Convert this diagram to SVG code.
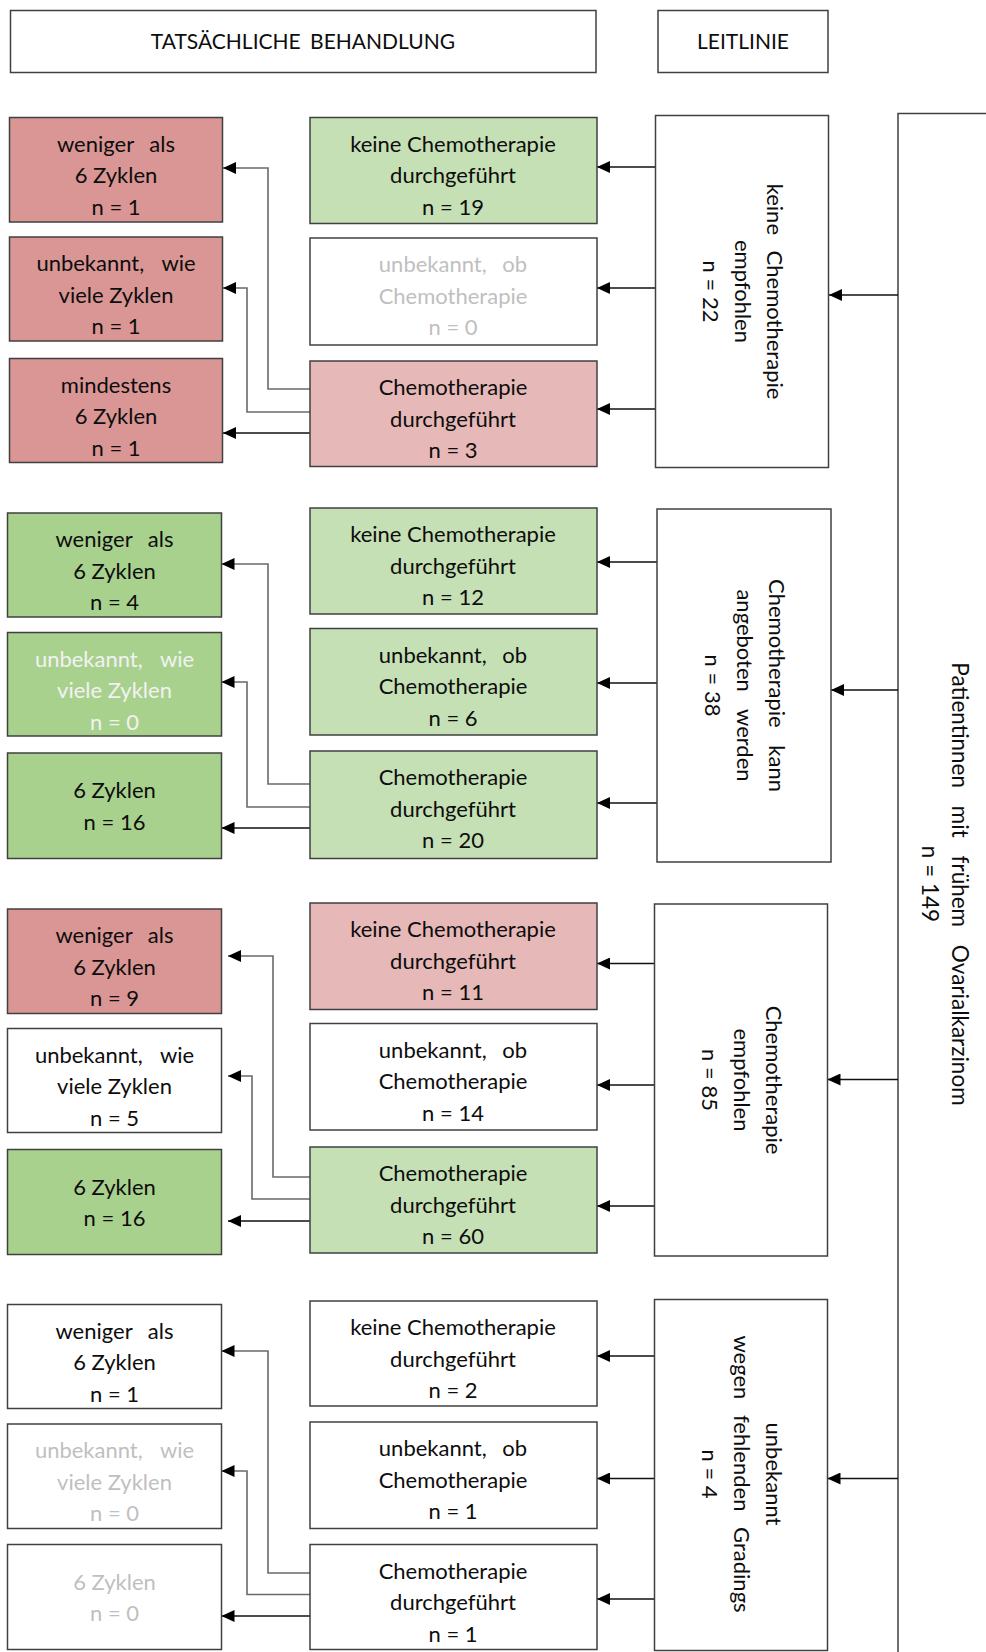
<svg xmlns="http://www.w3.org/2000/svg" width="986" height="1652" viewBox="0 0 986 1652">
<style>
text{font-family:Lato,"Open Sans","Liberation Sans",sans-serif;font-size:22px;fill:#0d0d0d;text-anchor:middle}
.hd{font-size:21px;word-spacing:4px}
.ws{word-spacing:10px}
.ws2{word-spacing:12px}
.big{font-size:22.5px}
.bw{word-spacing:12px}
.box{stroke:#404040;stroke-width:1.5}
.w{fill:#ffffff}
.rd{fill:#D99694}
.rl{fill:#E6B8B7}
.gl{fill:#C5E0B4}
.gd{fill:#A9D18E}
.gt{fill:#BFBFBF}
.wt{fill:#F2F2F2}
.c{fill:none;stroke:#111;stroke-width:1.4}
.e{fill:none;stroke:#6a6a6a;stroke-width:1.6}
</style>
<defs>
<marker id="ah" markerUnits="userSpaceOnUse" markerWidth="13" markerHeight="12" refX="13" refY="6" orient="auto">
<path d="M0,0 L13,6 L0,12 z" fill="#000"/>
</marker>
</defs>
<rect width="986" height="1652" fill="#fff"/>

<g id="hdr1"><rect class="box w" x="10.5" y="10.5" width="585.5" height="62"/><text class="hd" x="303" y="49">TATSÄCHLICHE BEHANDLUNG</text></g>
<g id="hdr2"><rect class="box w" x="658" y="10.5" width="170" height="62"/><text class="hd" x="743" y="49">LEITLINIE</text></g>

<g id="root"><rect class="box w" x="898" y="113.5" width="120" height="1600"/>
<g transform="translate(937,884) rotate(90)"><text class="big bw" y="-15">Patientinnen mit frühem Ovarialkarzinom</text><text class="big" y="15">n = 149</text></g></g>

<g id="connectors">
<path class="c" d="M898,295 H829" marker-end="url(#ah)"/>
<path class="c" d="M898,690 H831" marker-end="url(#ah)"/>
<path class="c" d="M898,1079.5 H827.5" marker-end="url(#ah)"/>
<path class="c" d="M898,1478.5 H827.5" marker-end="url(#ah)"/>

<path class="c" d="M655.5,167 H597" marker-end="url(#ah)"/>
<path class="c" d="M655.5,288 H597" marker-end="url(#ah)"/>
<path class="c" d="M655.5,409 H597" marker-end="url(#ah)"/>
<path class="c" d="M657,562 H597" marker-end="url(#ah)"/>
<path class="c" d="M657,683 H597" marker-end="url(#ah)"/>
<path class="c" d="M657,803 H597" marker-end="url(#ah)"/>
<path class="c" d="M654.5,963.5 H597" marker-end="url(#ah)"/>
<path class="c" d="M654.5,1085 H597" marker-end="url(#ah)"/>
<path class="c" d="M654.5,1206 H597" marker-end="url(#ah)"/>
<path class="c" d="M654.5,1356 H597" marker-end="url(#ah)"/>
<path class="c" d="M654.5,1478.5 H597" marker-end="url(#ah)"/>
<path class="c" d="M654.5,1599 H597" marker-end="url(#ah)"/>

<path class="e" d="M310,389 H268 V168 H223" marker-end="url(#ah)"/>
<path class="e" d="M310,412 H247 V288 H223" marker-end="url(#ah)"/>
<path class="c" d="M310,433 H223" marker-end="url(#ah)"/>
<path class="e" d="M310,784 H268 V564 H221.5" marker-end="url(#ah)"/>
<path class="e" d="M310,807 H247 V682 H221.5" marker-end="url(#ah)"/>
<path class="c" d="M310,828 H221.5" marker-end="url(#ah)"/>
<path class="e" d="M310,1177 H273 V956 H228" marker-end="url(#ah)"/>
<path class="e" d="M310,1199 H252 V1076 H228" marker-end="url(#ah)"/>
<path class="c" d="M310,1221 H228" marker-end="url(#ah)"/>
<path class="e" d="M310,1573 H268 V1351 H221.5" marker-end="url(#ah)"/>
<path class="e" d="M310,1594.5 H247 V1471 H221.5" marker-end="url(#ah)"/>
<path class="c" d="M310,1616 H221.5" marker-end="url(#ah)"/>
</g>

<!-- Section 1 -->
<g id="g1"><rect class="box w" x="655.5" y="115.5" width="173" height="352"/>
<g transform="translate(742,291.5) rotate(90)"><text class="ws" y="-25">keine Chemotherapie</text><text y="7">empfohlen</text><text y="39">n = 22</text></g></g>
<g id="m1a"><rect class="box gl" x="310" y="117.5" width="287" height="106"/><text x="453" y="151.5">keine Chemotherapie</text><text x="453" y="183">durchgeführt</text><text x="453" y="214.5">n = 19</text></g>
<g id="m1b"><rect class="box w" x="310" y="238" width="287" height="107"/><text class="gt ws" x="453" y="272">unbekannt, ob</text><text class="gt" x="453" y="303.5">Chemotherapie</text><text class="gt" x="453" y="335">n = 0</text></g>
<g id="m1c"><rect class="box rl" x="310" y="361" width="287" height="105.5"/><text x="453" y="395">Chemotherapie</text><text x="453" y="426.5">durchgeführt</text><text x="453" y="458">n = 3</text></g>
<g id="l1a"><rect class="box rd" x="9.5" y="117.5" width="213" height="104.5"/><text class="ws" x="116" y="151.5">weniger als</text><text x="116" y="183">6 Zyklen</text><text x="116" y="214.5">n = 1</text></g>
<g id="l1b"><rect class="box rd" x="9.5" y="237" width="213" height="104"/><text class="ws2" x="116" y="271">unbekannt, wie</text><text x="116" y="302.5">viele Zyklen</text><text x="116" y="334">n = 1</text></g>
<g id="l1c"><rect class="box rd" x="9.5" y="358.5" width="213" height="104"/><text x="116" y="392.5">mindestens</text><text x="116" y="424">6 Zyklen</text><text x="116" y="455.5">n = 1</text></g>

<!-- Section 2 -->
<g id="g2"><rect class="box w" x="657" y="509" width="174" height="353"/>
<g transform="translate(744,685.5) rotate(90)"><text class="ws2" y="-25">Chemotherapie kann</text><text class="ws2" y="7">angeboten werden</text><text y="39">n = 38</text></g></g>
<g id="m2a"><rect class="box gl" x="310" y="508" width="287" height="106"/><text x="453" y="542">keine Chemotherapie</text><text x="453" y="573.5">durchgeführt</text><text x="453" y="605">n = 12</text></g>
<g id="m2b"><rect class="box gl" x="310" y="628.5" width="287" height="106.5"/><text class="ws" x="453" y="662.5">unbekannt, ob</text><text x="453" y="694">Chemotherapie</text><text x="453" y="725.5">n = 6</text></g>
<g id="m2c"><rect class="box gl" x="310" y="751" width="287" height="107.5"/><text x="453" y="785">Chemotherapie</text><text x="453" y="816.5">durchgeführt</text><text x="453" y="848">n = 20</text></g>
<g id="l2a"><rect class="box gd" x="7.5" y="513" width="214" height="104"/><text class="ws" x="114.5" y="547">weniger als</text><text x="114.5" y="578.5">6 Zyklen</text><text x="114.5" y="610">n = 4</text></g>
<g id="l2b"><rect class="box gd" x="7.5" y="632.5" width="214" height="103.5"/><text class="wt ws2" x="114.5" y="666.5">unbekannt, wie</text><text class="wt" x="114.5" y="698">viele Zyklen</text><text class="wt" x="114.5" y="729.5">n = 0</text></g>
<g id="l2c"><rect class="box gd" x="7.5" y="753" width="214" height="105.5"/><text x="114.5" y="798">6 Zyklen</text><text x="114.5" y="830">n = 16</text></g>

<!-- Section 3 -->
<g id="g3"><rect class="box w" x="654.5" y="904" width="173" height="352"/>
<g transform="translate(741,1080) rotate(90)"><text y="-25">Chemotherapie</text><text y="7">empfohlen</text><text y="39">n = 85</text></g></g>
<g id="m3a"><rect class="box rl" x="310" y="903" width="287" height="106.5"/><text x="453" y="937">keine Chemotherapie</text><text x="453" y="968.5">durchgeführt</text><text x="453" y="1000">n = 11</text></g>
<g id="m3b"><rect class="box w" x="310" y="1023.5" width="287" height="106.5"/><text class="ws" x="453" y="1057.5">unbekannt, ob</text><text x="453" y="1089">Chemotherapie</text><text x="453" y="1120.5">n = 14</text></g>
<g id="m3c"><rect class="box gl" x="310" y="1147" width="287" height="106"/><text x="453" y="1181">Chemotherapie</text><text x="453" y="1212.5">durchgeführt</text><text x="453" y="1244">n = 60</text></g>
<g id="l3a"><rect class="box rd" x="7.5" y="909" width="214" height="104.5"/><text class="ws" x="114.5" y="943">weniger als</text><text x="114.5" y="974.5">6 Zyklen</text><text x="114.5" y="1006">n = 9</text></g>
<g id="l3b"><rect class="box w" x="7.5" y="1028.5" width="214" height="104"/><text class="ws2" x="114.5" y="1062.5">unbekannt, wie</text><text x="114.5" y="1094">viele Zyklen</text><text x="114.5" y="1125.5">n = 5</text></g>
<g id="l3c"><rect class="box gd" x="7.5" y="1149.5" width="214" height="105"/><text x="114.5" y="1194.5">6 Zyklen</text><text x="114.5" y="1226">n = 16</text></g>

<!-- Section 4 -->
<g id="g4"><rect class="box w" x="654.5" y="1299.5" width="173" height="351"/>
<g transform="translate(741,1474) rotate(90)"><text y="-25">unbekannt</text><text class="ws" y="7">wegen fehlenden Gradings</text><text y="39">n = 4</text></g></g>
<g id="m4a"><rect class="box w" x="310" y="1301" width="287" height="105"/><text x="453" y="1335">keine Chemotherapie</text><text x="453" y="1366.5">durchgeführt</text><text x="453" y="1398">n = 2</text></g>
<g id="m4b"><rect class="box w" x="310" y="1422" width="287" height="106.5"/><text class="ws" x="453" y="1456">unbekannt, ob</text><text x="453" y="1487.5">Chemotherapie</text><text x="453" y="1519">n = 1</text></g>
<g id="m4c"><rect class="box w" x="310" y="1544.5" width="287" height="105"/><text x="453" y="1578.5">Chemotherapie</text><text x="453" y="1610">durchgeführt</text><text x="453" y="1641.5">n = 1</text></g>
<g id="l4a"><rect class="box w" x="7.5" y="1304.5" width="214" height="104"/><text class="ws" x="114.5" y="1338.5">weniger als</text><text x="114.5" y="1370">6 Zyklen</text><text x="114.5" y="1401.5">n = 1</text></g>
<g id="l4b"><rect class="box w" x="7.5" y="1424" width="214" height="104.5"/><text class="gt ws2" x="114.5" y="1458">unbekannt, wie</text><text class="gt" x="114.5" y="1489.5">viele Zyklen</text><text class="gt" x="114.5" y="1521">n = 0</text></g>
<g id="l4c"><rect class="box w" x="7.5" y="1544.5" width="214" height="105"/><text class="gt" x="114.5" y="1589.5">6 Zyklen</text><text class="gt" x="114.5" y="1621">n = 0</text></g>
</svg>
